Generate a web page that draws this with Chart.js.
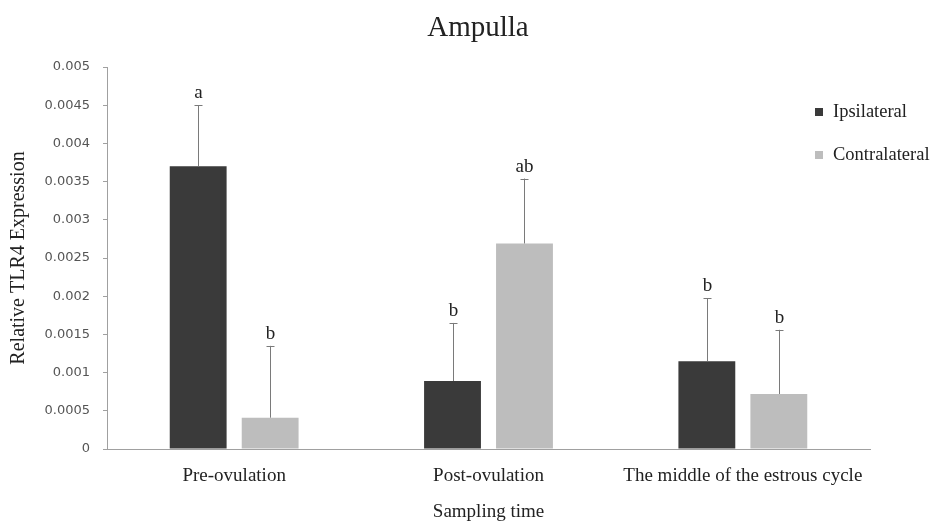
<!DOCTYPE html>
<html>
<head>
<meta charset="utf-8">
<script src="https://cdn.jsdelivr.net/npm/chart.js@4.4.0/dist/chart.umd.min.js"></script>
<style>
  html, body { margin: 0; padding: 0; background: #ffffff; }
  canvas { display: block; }
</style>
</head>
<body>
<canvas id="c" width="933" height="521"></canvas>
<script>
// ---- Data ----
const categories = ['Pre-ovulation', 'Post-ovulation', 'The middle of the estrous cycle'];
const seriesNames = ['Ipsilateral', 'Contralateral'];
const ipsilateral = [0.0037, 0.00089, 0.00115];
const contralateral = [0.00041, 0.00269, 0.00072];
const ipsilateralErr = [0.0008, 0.00076, 0.00082];
const contralateralErr = [0.00094, 0.00085, 0.00084];
const ipsilateralLetters = ['a', 'b', 'b'];
const contralateralLetters = ['b', 'ab', 'b'];
const yTickLabels = ['0', '0.0005', '0.001', '0.0015', '0.002', '0.0025', '0.003', '0.0035', '0.004', '0.0045', '0.005'];

const SERIF = '"Liberation Serif", "Times New Roman", serif';
const colors = ['#3a3a3a', '#bdbdbd'];
const errs = [ipsilateralErr, contralateralErr];
const letters = [ipsilateralLetters, contralateralLetters];

const decorPlugin = {
  id: 'decor',
  afterDatasetsDraw(chart) {
    const ctx = chart.ctx;
    const yScale = chart.scales.y;
    ctx.save();
    chart.data.datasets.forEach((ds, i) => {
      const meta = chart.getDatasetMeta(i);
      meta.data.forEach((bar, j) => {
        const v = ds.data[j];
        const e = errs[i][j];
        const x = Math.round(bar.x) + 0.5;
        const yTop = bar.y;
        const yErr = yScale.getPixelForValue(v + e);
        ctx.strokeStyle = '#7a7a7a';
        ctx.lineWidth = 1;
        ctx.beginPath();
        ctx.moveTo(x, yTop);
        ctx.lineTo(x, yErr);
        ctx.moveTo(x - 4, Math.round(yErr) + 0.5);
        ctx.lineTo(x + 4, Math.round(yErr) + 0.5);
        ctx.stroke();
        ctx.fillStyle = '#222222';
        ctx.font = '19px ' + SERIF;
        ctx.textAlign = 'center';
        ctx.textBaseline = 'alphabetic';
        ctx.fillText(letters[i][j], x, yErr - 7);
      });
    });
    ctx.restore();
  },
  afterDraw(chart) {
    const ctx = chart.ctx;
    ctx.save();
    // Title
    ctx.fillStyle = '#222222';
    ctx.font = '29px ' + SERIF;
    ctx.textAlign = 'center';
    ctx.textBaseline = 'middle';
    ctx.fillText('Ampulla', 478, 28);
    // Legend
    const legendY = [112, 155];
    chart.data.datasets.forEach((ds, i) => {
      ctx.fillStyle = ds.backgroundColor;
      ctx.fillRect(815, legendY[i] - 4, 8, 8);
      ctx.fillStyle = '#222222';
      ctx.font = '18.5px ' + SERIF;
      ctx.textAlign = 'left';
      ctx.textBaseline = 'middle';
      ctx.fillText(ds.label, 833, legendY[i]);
    });
    ctx.restore();
  }
};

new Chart(document.getElementById('c'), {
  type: 'bar',
  data: {
    labels: categories,
    datasets: [
      { label: seriesNames[0], data: ipsilateral, backgroundColor: colors[0], categoryPercentage: 0.566, barPercentage: 0.79 },
      { label: seriesNames[1], data: contralateral, backgroundColor: colors[1], categoryPercentage: 0.566, barPercentage: 0.79 }
    ]
  },
  options: {
    responsive: false,
    animation: false,
    devicePixelRatio: 1,
    events: [],
    layout: { padding: { left: 0, right: 63, top: 67, bottom: 0 } },
    plugins: {
      legend: { display: false },
      title: { display: false },
      tooltip: { enabled: false }
    },
    scales: {
      x: {
        grid: { display: false, drawTicks: false },
        border: { display: true, color: '#a0a0a0', width: 1 },
        ticks: {
          font: { family: SERIF, size: 19 },
          color: '#222222',
          padding: 16,
          maxRotation: 0,
          autoSkip: false
        },
        title: {
          display: true,
          text: 'Sampling time',
          font: { family: SERIF, size: 19, lineHeight: 1 },
          color: '#222222',
          padding: { top: 0, bottom: -1 }
        },
        afterFit: (s) => { s.height = 72; }
      },
      y: {
        min: 0,
        max: 0.005,
        ticks: {
          stepSize: 0.0005,
          callback: (v) => {
            const l = yTickLabels.find(t => Math.abs(parseFloat(t) - v) < 1e-9);
            return l === undefined ? '' : l;
          },
          font: { family: '"DejaVu Sans", sans-serif', size: 13 },
          color: '#555555',
          padding: 13
        },
        grid: { display: true, drawOnChartArea: false, drawTicks: true, tickLength: 4, color: '#a0a0a0' },
        border: { display: true, color: '#a0a0a0', width: 1 },
        title: {
          display: true,
          text: 'Relative TLR4 Expression',
          font: { family: SERIF, size: 20, lineHeight: 1.2 },
          color: '#222222',
          padding: { top: 7, bottom: 0 }
        },
        afterFit: (s) => { s.width = 107; }
      }
    }
  },
  plugins: [decorPlugin]
});
</script>
</body>
</html>
